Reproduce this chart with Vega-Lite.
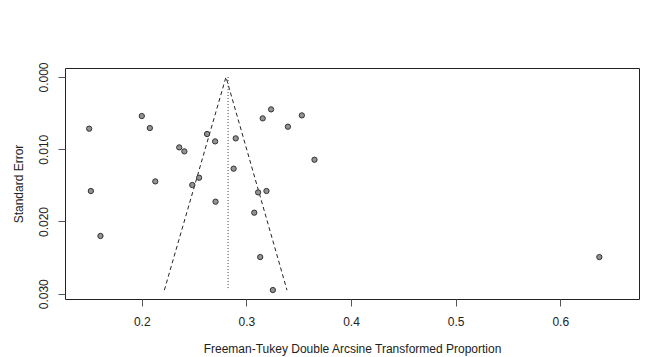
{
  "$schema": "https://vega.github.io/schema/vega-lite/v6.json",
  "width": 574,
  "height": 231,
  "autosize": "none",
  "padding": {"left": 65, "top": 68, "right": 22, "bottom": 58},
  "background": "white",
  "config": {
    "view": {"stroke": "#222", "strokeWidth": 1},
    "font": "Liberation Sans",
    "axis": {
      "grid": false,
      "domain": false,
      "tickColor": "#555",
      "tickSize": 7,
      "labelFont": "Liberation Sans",
      "titleFont": "Liberation Sans",
      "labelFontSize": 12,
      "titleFontSize": 12,
      "labelColor": "#222",
      "titleColor": "#222",
      "titleFontWeight": "normal"
    }
  },
  "datasets": {
    "studies": [
      {"est": 0.1497, "se": 0.00715},
      {"est": 0.1513, "se": 0.01578},
      {"est": 0.1605, "se": 0.0220},
      {"est": 0.2000, "se": 0.0054},
      {"est": 0.2077, "se": 0.00706},
      {"est": 0.2129, "se": 0.01445},
      {"est": 0.2358, "se": 0.00974},
      {"est": 0.2407, "se": 0.01029},
      {"est": 0.2483, "se": 0.01495},
      {"est": 0.2548, "se": 0.01394},
      {"est": 0.2624, "se": 0.00789},
      {"est": 0.2701, "se": 0.00891},
      {"est": 0.2705, "se": 0.01726},
      {"est": 0.2878, "se": 0.01269},
      {"est": 0.2898, "se": 0.00849},
      {"est": 0.3075, "se": 0.01878},
      {"est": 0.3112, "se": 0.01597},
      {"est": 0.3192, "se": 0.01578},
      {"est": 0.3132, "se": 0.02492},
      {"est": 0.3156, "se": 0.00572},
      {"est": 0.3236, "se": 0.00448},
      {"est": 0.3253, "se": 0.02949},
      {"est": 0.3397, "se": 0.00688},
      {"est": 0.3530, "se": 0.00531},
      {"est": 0.3651, "se": 0.01145},
      {"est": 0.6374, "se": 0.02492}
    ],
    "funnel": [
      {"est": 0.2216, "se": 0.0295, "o": 1},
      {"est": 0.2805, "se": 0.0, "o": 2},
      {"est": 0.3388, "se": 0.0295, "o": 3}
    ],
    "center": [
      {"est": 0.2825, "se": 0.0, "o": 1},
      {"est": 0.2825, "se": 0.0295, "o": 2}
    ]
  },
  "layer": [
    {
      "data": {"name": "funnel"},
      "mark": {"type": "line", "color": "#222", "strokeWidth": 1, "strokeDash": [4, 3]},
      "encoding": {
        "x": {"field": "est", "type": "quantitative"},
        "y": {"field": "se", "type": "quantitative"},
        "order": {"field": "o"}
      }
    },
    {
      "data": {"name": "center"},
      "mark": {"type": "line", "color": "#444", "strokeWidth": 1, "strokeDash": [1, 2]},
      "encoding": {
        "x": {"field": "est", "type": "quantitative"},
        "y": {"field": "se", "type": "quantitative"},
        "order": {"field": "o"}
      }
    },
    {
      "data": {"name": "studies"},
      "mark": {"type": "point", "filled": false, "shape": "circle", "size": 28, "fill": "#939393", "fillOpacity": 1, "stroke": "#333", "strokeWidth": 1, "opacity": 1},
      "encoding": {
        "x": {
          "field": "est", "type": "quantitative",
          "scale": {"domain": [0.1266, 0.6753], "nice": false, "zero": false},
          "axis": {"values": [0.2, 0.3, 0.4, 0.5, 0.6], "format": ".1f", "labelPadding": 10, "title": "Freeman-Tukey Double Arcsine Transformed Proportion", "titlePadding": 16}
        },
        "y": {
          "field": "se", "type": "quantitative",
          "scale": {"domain": [-0.00125, 0.03073], "nice": false, "zero": false, "reverse": true},
          "axis": {"values": [0, 0.005, 0.01, 0.015, 0.02, 0.025, 0.03], "labelExpr": "round(datum.value*1000) % 10 == 0 ? format(datum.value, '.3f') : ''", "labelAngle": -90, "labelAlign": "center", "labelBaseline": "bottom", "labelPadding": 8, "title": "Standard Error", "titlePadding": 12}
        }
      }
    }
  ]
}
